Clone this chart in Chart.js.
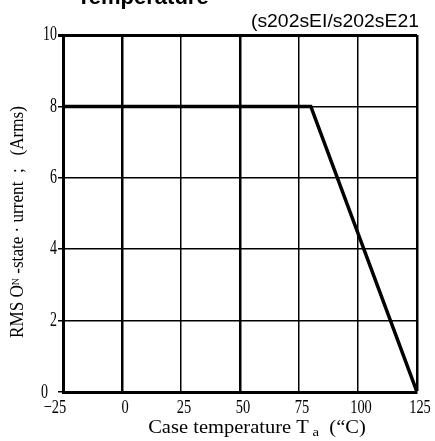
<!DOCTYPE html>
<html>
<head>
<meta charset="utf-8">
<script src="https://cdn.jsdelivr.net/npm/chart.js@4"></script>
<style>
  html, body { margin: 0; padding: 0; background: #fff; }
  #wrap { width: 435px; height: 441px; position: relative; }
</style>
</head>
<body>
<div id="wrap"><canvas id="derating"></canvas></div>
<script>
// Derating curve: RMS on-state current vs case temperature
const tempC = [-25, 80, 125];
const currentA = [8, 8, 0];
const xTicks = [-25, 0, 25, 50, 75, 100, 125];
const yTicks = [0, 2, 4, 6, 8, 10];

const serif = '"Liberation Serif", "DejaVu Serif", serif';
const sans = '"Liberation Sans", Arial, sans-serif';

// draw text squeezed/stretched along its baseline
function drawScaled(ctx, text, x, y, sx, align) {
    ctx.save();
    ctx.translate(x, y);
    ctx.scale(sx, 1);
    ctx.textAlign = align;
    ctx.fillText(text, 0, 0);
    ctx.restore();
}

// runs of text with different sizes (for subscripts), centered on cx
function drawRuns(ctx, runs, cx, cy, sx) {
    let total = 0;
    runs.forEach(r => {
        ctx.font = r.size + 'px ' + serif;
        r.w = ctx.measureText(r.t).width * sx;
        total += r.w;
    });
    let x = cx - total / 2;
    runs.forEach(r => {
        ctx.font = r.size + 'px ' + serif;
        drawScaled(ctx, r.t, x, cy + (r.dy || 0), sx, 'left');
        x += r.w;
    });
}

const captions = {
    id: 'captions',
    afterDraw(chart) {
        const ctx = chart.ctx;
        const xs = chart.scales.x;
        const ys = chart.scales.y;
        ctx.save();
        ctx.fillStyle = '#000';
        ctx.textBaseline = 'alphabetic';

        ctx.font = 'bold 22px ' + sans;
        ctx.textAlign = 'left';
        ctx.fillText('Temperature', 77, 4);

        ctx.font = '19px ' + sans;
        drawScaled(ctx, '(s202sEI/s202sE21', 419, 27, 1.02, 'right');

        // tick labels
        ctx.textBaseline = 'middle';
        ctx.font = '20px ' + serif;
        yTicks.forEach(v => {
            const y = ys.getPixelForValue(v) + (v === 0 ? 1 : 0);
            drawScaled(ctx, String(v), v === 0 ? 48 : 57, y, 0.7, 'right');
        });
        ctx.font = '19px ' + serif;
        xTicks.forEach(v => {
            const label = String(v).replace('-', '\u2212');
            const x = xs.getPixelForValue(v) + (v < 0 ? -8 : 3);
            drawScaled(ctx, label, x, 408, 0.76, 'center');
        });

        // axis titles
        ctx.textBaseline = 'alphabetic';
        drawRuns(ctx, [
            { t: 'Case temperature T', size: 18 },
            { t: ' a', size: 13, dy: 3 },
            { t: '  (\u201cC)', size: 18 }
        ], 257, 433, 1.14);

        ctx.translate(18, 222);
        ctx.rotate(-Math.PI / 2);
        ctx.textBaseline = 'middle';
        drawRuns(ctx, [
            { t: 'RMS O', size: 19 },
            { t: 'N', size: 11, dy: -2 },
            { t: ' -state \u00b7 urrent  ;   (Arms)', size: 19 }
        ], 0, 0, 0.9);
        ctx.restore();
    }
};

new Chart(document.getElementById('derating'), {
    type: 'line',
    data: {
        datasets: [{
            data: tempC.map((t, i) => ({ x: t, y: currentA[i] })),
            borderColor: '#000',
            borderWidth: 3.5,
            pointRadius: 0,
            tension: 0,
            fill: false
        }]
    },
    options: {
        responsive: true,
        maintainAspectRatio: false,
        animation: false,
        layout: { padding: { left: 0, right: 18, top: 35, bottom: 0 } },
        plugins: {
            legend: { display: false },
            tooltip: { enabled: false }
        },
        scales: {
            x: {
                type: 'linear',
                min: -25,
                max: 125,
                afterFit: s => { s.height = 49; },
                afterBuildTicks: s => { s.ticks = xTicks.map(v => ({ value: v })); },
                border: { display: true, color: '#000', width: 3 },
                grid: {
                    color: '#000',
                    lineWidth: c => (c.tick.value === 0 || c.tick.value === 50 || c.tick.value === 125) ? 2.5 : 1.5,
                    drawTicks: false
                },
                ticks: { display: false }
            },
            y: {
                type: 'linear',
                min: 0,
                max: 10,
                afterFit: s => { s.width = 63; },
                afterBuildTicks: s => { s.ticks = yTicks.map(v => ({ value: v })); },
                border: { display: true, color: '#000', width: 3 },
                grid: {
                    color: '#000',
                    lineWidth: c => c.tick.value === 10 ? 3 : 1.5,
                    tickLength: 5
                },
                ticks: { display: false }
            }
        }
    },
    plugins: [captions]
});
</script>
</body>
</html>
